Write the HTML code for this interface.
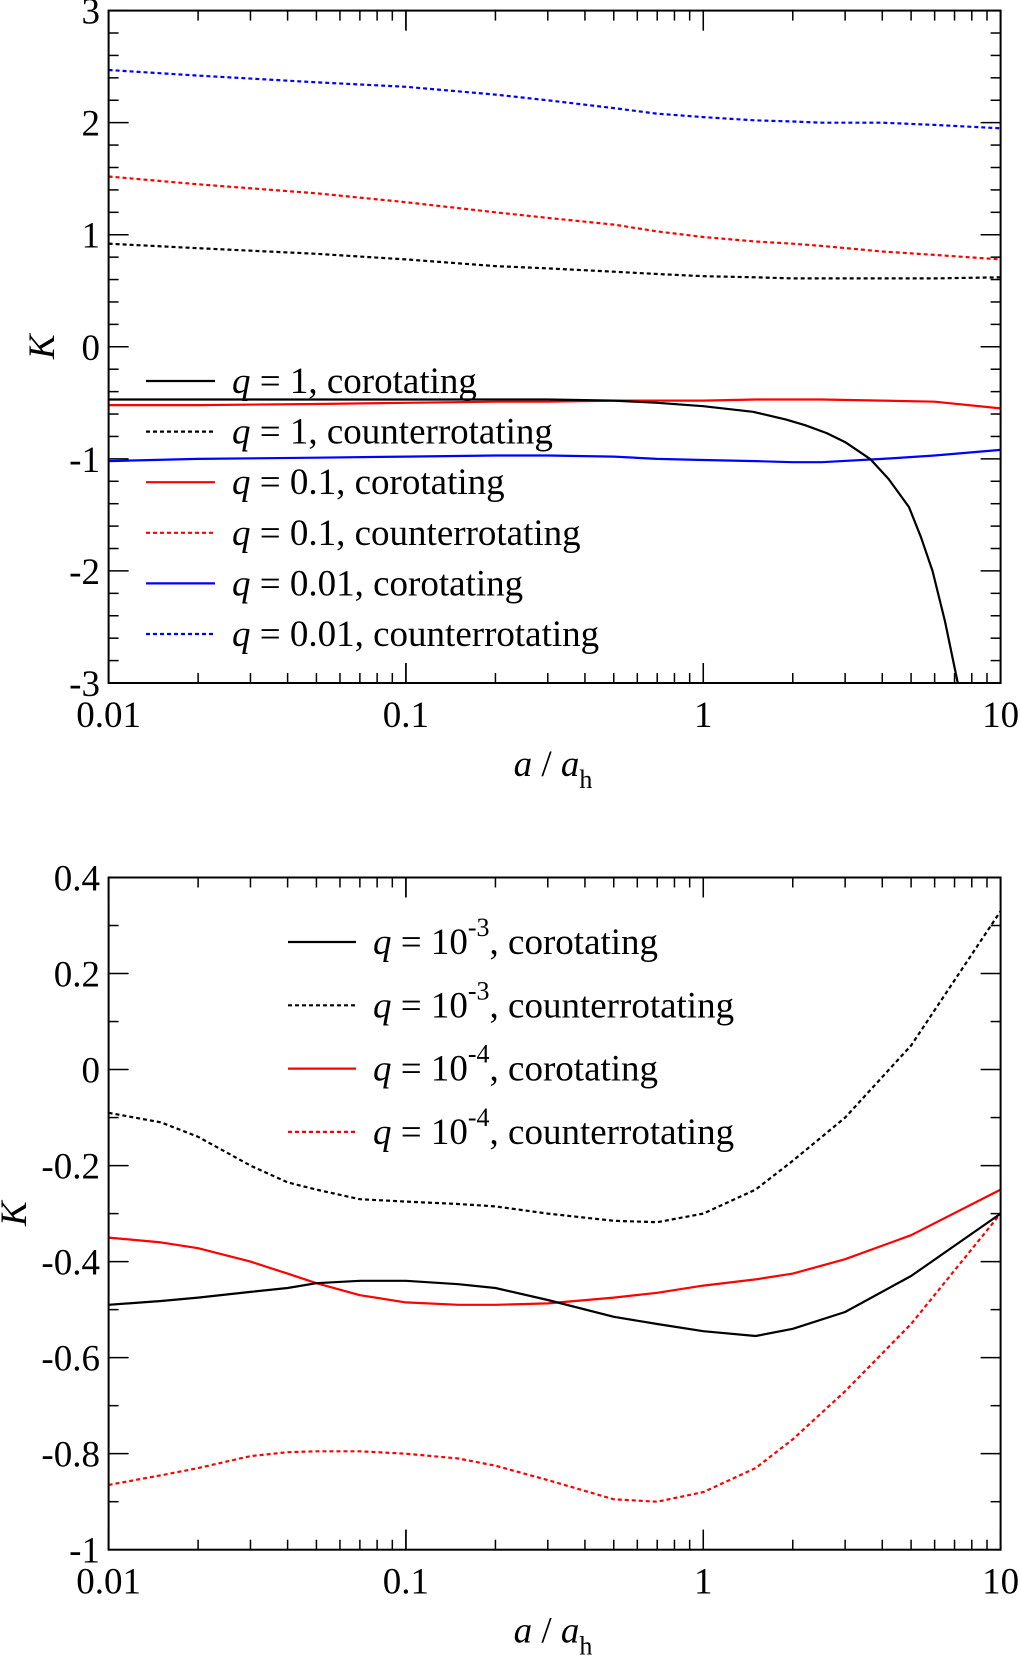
<!DOCTYPE html>
<html><head><meta charset="utf-8"><style>
html,body{margin:0;padding:0;background:#fff}
svg text{font-family:"Liberation Serif",serif}
</style></head><body>
<svg id="s" width="1020" height="1658" viewBox="0 0 1020 1658" xmlns="http://www.w3.org/2000/svg"></svg>
<script>
const topX=[0.01,0.02,0.05,0.1,0.2,0.3,0.5,0.7,1,1.47,1.9,2.2,2.6,3,3.64,4.2,4.92,5.4,5.9,6.5,7.18];
const topK1co=[-0.47,-0.47,-0.47,-0.47,-0.47,-0.47,-0.48,-0.5,-0.53,-0.58,-0.65,-0.7,-0.77,-0.85,-1.0,-1.18,-1.43,-1.7,-2.0,-2.45,-3.0];
const topLongX=[0.01,0.02,0.05,0.1,0.2,0.3,0.5,0.7,1,1.5,2,2.5,4,6,10];
const topK01co=[-0.52,-0.52,-0.51,-0.5,-0.49,-0.49,-0.48,-0.48,-0.48,-0.47,-0.47,-0.47,-0.48,-0.49,-0.55];
const topK001co=[-1.02,-1.0,-0.99,-0.98,-0.97,-0.97,-0.98,-1.0,-1.01,-1.02,-1.03,-1.03,-1.0,-0.97,-0.92];
const topK1ct=[0.92,0.88,0.83,0.78,0.72,0.7,0.67,0.65,0.63,0.62,0.61,0.61,0.61,0.61,0.62];
const topK01ct=[1.52,1.45,1.37,1.29,1.2,1.15,1.09,1.03,0.98,0.94,0.92,0.9,0.85,0.82,0.78];
const topK001ct=[2.47,2.42,2.36,2.32,2.25,2.2,2.13,2.08,2.05,2.02,2.01,2.0,2.0,1.98,1.95];
const botX=[0.01,0.015,0.02,0.03,0.04,0.05,0.07,0.1,0.15,0.2,0.3,0.5,0.7,1,1.5,2,3,5,10];
const botK3co=[-0.49,-0.482,-0.475,-0.463,-0.455,-0.445,-0.44,-0.44,-0.447,-0.455,-0.48,-0.515,-0.53,-0.545,-0.555,-0.54,-0.505,-0.43,-0.3];
const botK4co=[-0.35,-0.36,-0.372,-0.4,-0.425,-0.445,-0.47,-0.485,-0.49,-0.49,-0.487,-0.475,-0.465,-0.45,-0.437,-0.425,-0.395,-0.345,-0.25];
const botK3ct=[-0.09,-0.11,-0.14,-0.2,-0.235,-0.25,-0.27,-0.275,-0.28,-0.285,-0.3,-0.315,-0.318,-0.3,-0.25,-0.19,-0.1,0.05,0.33];
const botK4ct=[-0.865,-0.845,-0.83,-0.805,-0.797,-0.795,-0.795,-0.8,-0.81,-0.825,-0.855,-0.895,-0.9,-0.88,-0.83,-0.77,-0.67,-0.53,-0.3];
const xTicks=["0.01","0.1","1","10"];
const topYTicks=["-3","-2","-1","0","1","2","3"];
const botYTicks=["-1","-0.8","-0.6","-0.4","-0.2","0","0.2","0.4"];

const NS="http://www.w3.org/2000/svg";
const svg=document.getElementById('s');
function mk(tag,attrs,parent,txt){const e=document.createElementNS(NS,tag);for(const k in attrs)e.setAttribute(k,attrs[k]);if(txt!==undefined)e.textContent=txt;(parent||svg).appendChild(e);return e;}
const L=108.6,R=1000.6;
const FS=37;
function xs(v){return L+(Math.log10(v)+2)/3*(R-L);}
function panel(name,T,B,ymin,ymax,major,minor,yTicks,series,legend){
  const g=mk('g',{},svg);
  
  
  const ys=v=>B-(v-ymin)/(ymax-ymin)*(B-T);
  series.forEach(s=>{
    const d=s.x.map((x,i)=>(i?'L':'M')+xs(x).toFixed(1)+' '+ys(s.y[i]).toFixed(1)).join(' ');
    const p=mk('path',{d:d,fill:'none',stroke:s.c,'stroke-width':2.2,'stroke-dasharray':s.dash?'4 3':'none','stroke-linejoin':'round'},g);
    
    
  });
  const f=mk('rect',{x:L,y:T,width:R-L,height:B-T,fill:'none',stroke:'#000','stroke-width':2},g);
  
  
  const n=Math.round((ymax-ymin)/minor);
  for(let i=0;i<=n;i++){const v=ymin+i*minor;const y=ys(v);const mj=Math.abs(v/major-Math.round(v/major))<1e-6;const len=mj?20:10;
    mk('line',{x1:L,x2:L+len,y1:y,y2:y,stroke:'#000','stroke-width':1.5},g);mk('line',{x1:R,x2:R-len,y1:y,y2:y,stroke:'#000','stroke-width':1.5},g);}
  yTicks.forEach(t=>{const e=mk('text',{x:100,y:ys(parseFloat(t))+13,'text-anchor':'end','font-size':FS},g,t);
    
    });
  for(let dcd=-2;dcd<1;dcd++){for(let m=1;m<=10;m++){const v=m*Math.pow(10,dcd);const x=xs(v);const mj=(m===1||m===10);const len=mj?20:10;
    mk('line',{x1:x,x2:x,y1:B,y2:B-len,stroke:'#000','stroke-width':1.5},g);mk('line',{x1:x,x2:x,y1:T,y2:T+len,stroke:'#000','stroke-width':1.5},g);}}
  xTicks.forEach(t=>{const e=mk('text',{x:xs(parseFloat(t)),y:B+44,'text-anchor':'middle','font-size':FS},g,t);
    
    });
  const xl=mk('text',{x:553,y:B+93,'text-anchor':'middle','font-size':FS},g);
  
  
  xl.innerHTML='<tspan font-style="italic">a</tspan> / <tspan font-style="italic">a</tspan><tspan font-size="26" dy="12">h</tspan>';
  const yl=mk('text',{x:0,y:0,'text-anchor':'middle','font-size':FS,'font-style':'italic',transform:`translate(${name==='bottom-panel'?26:54},${(T+B)/2}) rotate(-90)`},g,'K');
  
  
  legend.rows.forEach((r,i)=>{const y=legend.y0+i*legend.dy;
    const lg=mk('g',{},g);
    
    
    mk('line',{x1:legend.x1,x2:legend.x2,y1:y,y2:y,stroke:r.c,'stroke-width':2.2,'stroke-dasharray':r.dash?'4 3':'none'},lg);
    const t=mk('text',{x:legend.tx,y:y+12,'font-size':FS},lg);t.innerHTML=r.html;});
}
panel('top-panel',10.6,683,-3,3,1,0.2,topYTicks,[
 {n:'q1-counter',x:topLongX,y:topK1ct,c:'#000',dash:1},
 {n:'q01-counter',x:topLongX,y:topK01ct,c:'#f00',dash:1},
 {n:'q001-counter',x:topLongX,y:topK001ct,c:'#00f',dash:1},
 {n:'q001-co',x:topLongX,y:topK001co,c:'#00f'},
 {n:'q01-co',x:topLongX,y:topK01co,c:'#f00'},
 {n:'q1-co',x:topX,y:topK1co,c:'#000'}],
 {x1:146,x2:215,tx:232,y0:381,dy:50.6,rows:[
 {c:'#000',html:'<tspan font-style="italic">q</tspan> = 1, corotating'},
 {c:'#000',dash:1,html:'<tspan font-style="italic">q</tspan> = 1, counterrotating'},
 {c:'#f00',html:'<tspan font-style="italic">q</tspan> = 0.1, corotating'},
 {c:'#f00',dash:1,html:'<tspan font-style="italic">q</tspan> = 0.1, counterrotating'},
 {c:'#00f',html:'<tspan font-style="italic">q</tspan> = 0.01, corotating'},
 {c:'#00f',dash:1,html:'<tspan font-style="italic">q</tspan> = 0.01, counterrotating'}]});
panel('bottom-panel',877.5,1549.7,-1,0.4,0.2,0.1,botYTicks,[
 {n:'q1e-3-counter',x:botX,y:botK3ct,c:'#000',dash:1},
 {n:'q1e-4-counter',x:botX,y:botK4ct,c:'#f00',dash:1},
 {n:'q1e-4-co',x:botX,y:botK4co,c:'#f00'},
 {n:'q1e-3-co',x:botX,y:botK3co,c:'#000'}],
 {x1:288,x2:356,tx:373,y0:942,dy:63.3,rows:[
 {c:'#000',html:'<tspan font-style="italic">q</tspan> = 10<tspan font-size="26" dy="-18">-3</tspan><tspan dy="18">, corotating</tspan>'},
 {c:'#000',dash:1,html:'<tspan font-style="italic">q</tspan> = 10<tspan font-size="26" dy="-18">-3</tspan><tspan dy="18">, counterrotating</tspan>'},
 {c:'#f00',html:'<tspan font-style="italic">q</tspan> = 10<tspan font-size="26" dy="-18">-4</tspan><tspan dy="18">, corotating</tspan>'},
 {c:'#f00',dash:1,html:'<tspan font-style="italic">q</tspan> = 10<tspan font-size="26" dy="-18">-4</tspan><tspan dy="18">, counterrotating</tspan>'}]});
</script>
</body></html>
